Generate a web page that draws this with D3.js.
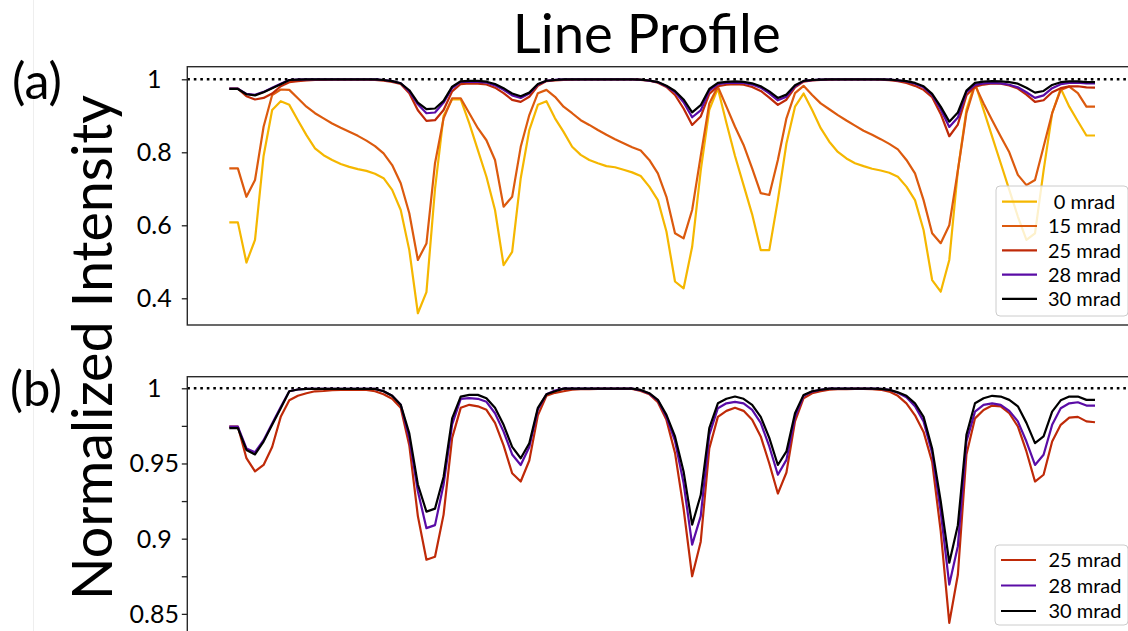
<!DOCTYPE html>
<html><head><meta charset="utf-8">
<script src="https://cdn.jsdelivr.net/npm/d3@7/dist/d3.min.js"></script>
<style>
html,body{margin:0;padding:0;background:#fff;}
svg{display:block;font-family:Lato,"Open Sans",sans-serif;}
</style>
</head><body>
<svg id="chart" width="1128" height="631"></svg>
<script>
// ---------------- data ----------------
const mrad0 = [0.608,0.608,0.498,0.560,0.790,0.916,0.940,0.930,0.888,0.847,
0.811,0.792,0.779,0.768,0.760,0.754,0.749,0.741,0.729,0.697,
0.642,0.532,0.359,0.417,0.700,0.900,0.945,0.945,0.879,0.806,
0.733,0.642,0.491,0.527,0.729,0.861,0.930,0.940,0.893,0.856,
0.815,0.793,0.779,0.770,0.762,0.759,0.752,0.745,0.735,0.706,
0.669,0.583,0.446,0.427,0.541,0.750,0.916,0.975,0.880,0.790,
0.710,0.630,0.532,0.532,0.669,0.824,0.925,0.961,0.916,0.866,
0.829,0.801,0.783,0.770,0.762,0.755,0.750,0.744,0.733,0.706,
0.669,0.587,0.450,0.418,0.505,0.750,0.916,0.990,0.916,0.843,
0.770,0.697,0.624,0.560,0.578,0.750,0.907,0.975,0.925,0.885,
0.846,0.846];
const mrad15 = [0.756,0.756,0.678,0.724,0.870,0.957,0.972,0.971,0.948,0.925,
0.907,0.893,0.879,0.867,0.856,0.845,0.832,0.817,0.797,0.765,
0.715,0.633,0.505,0.550,0.770,0.893,0.948,0.948,0.907,0.866,
0.833,0.779,0.651,0.678,0.815,0.902,0.962,0.971,0.952,0.925,
0.907,0.888,0.875,0.861,0.848,0.836,0.825,0.814,0.805,0.779,
0.742,0.678,0.578,0.564,0.642,0.790,0.934,0.980,0.925,0.870,
0.820,0.756,0.688,0.683,0.779,0.893,0.962,0.982,0.957,0.934,
0.918,0.902,0.887,0.873,0.859,0.848,0.836,0.823,0.808,0.779,
0.742,0.669,0.578,0.551,0.600,0.750,0.907,0.984,0.934,0.888,
0.843,0.800,0.738,0.710,0.724,0.815,0.907,0.971,0.980,0.962,
0.925,0.925];
const mrad25 = [0.9746,0.9746,0.9535,0.9447,0.949,0.961,0.981,0.992,0.995,0.9967,
0.998,0.9982,0.9987,0.9989,0.9989,0.9989,0.9989,0.998,0.996,0.993,
0.987,0.962,0.915,0.886,0.888,0.916,0.967,0.987,0.989,0.988,
0.9857,0.977,0.962,0.9435,0.938,0.952,0.982,0.995,0.997,0.998,
0.9991,0.9994,0.9995,0.9996,0.9996,0.9996,0.9996,0.9996,0.9982,0.996,
0.9907,0.979,0.957,0.920,0.875,0.898,0.960,0.981,0.985,0.987,
0.985,0.979,0.968,0.950,0.930,0.944,0.978,0.9934,0.9967,0.998,
0.9991,0.9994,0.9995,0.9996,0.9996,0.9994,0.999,0.9978,0.995,0.990,
0.982,0.971,0.951,0.905,0.844,0.876,0.956,0.980,0.9856,0.9885,
0.988,0.9834,0.9746,0.958,0.938,0.9425,0.9646,0.9757,0.9805,0.981,
0.978,0.9774];
const mrad28 = [0.9745,0.9745,0.960,0.9575,0.9655,0.9765,0.9875,0.998,0.9992,0.9996,
0.9996,0.9996,0.9996,0.9996,0.9996,0.9996,0.9996,0.9996,0.998,0.995,
0.989,0.967,0.9315,0.907,0.909,0.936,0.976,0.993,0.9934,0.993,
0.991,0.9834,0.9712,0.956,0.949,0.961,0.986,0.996,0.9985,0.9998,
0.9998,0.9998,0.9998,0.9998,0.9998,0.9998,0.9998,0.9998,0.9987,0.9965,
0.992,0.981,0.965,0.937,0.896,0.915,0.969,0.9867,0.990,0.991,
0.990,0.9856,0.977,0.9613,0.9425,0.9524,0.981,0.995,0.9978,0.999,
0.9998,0.9998,0.9998,0.9998,0.9998,0.9998,0.9996,0.999,0.997,0.994,
0.988,0.978,0.957,0.918,0.8695,0.895,0.9646,0.9845,0.989,0.990,
0.989,0.985,0.978,0.9646,0.949,0.9558,0.9757,0.9867,0.990,0.9907,
0.9885,0.9885];
const mrad30 = [0.9735,0.9735,0.959,0.956,0.9646,0.9757,0.9867,0.998,0.9992,0.9996,
0.9996,0.9996,0.9996,0.9996,0.9996,0.9996,0.9996,0.9996,0.998,0.995,
0.989,0.970,0.936,0.918,0.920,0.941,0.980,0.9945,0.9956,0.9956,
0.9934,0.987,0.9757,0.961,0.9535,0.9635,0.987,0.996,0.998,0.9998,
0.9998,0.9998,0.9998,0.9998,0.9998,0.9998,0.9998,0.9998,0.9989,0.9967,
0.9923,0.9823,0.968,0.9447,0.9093,0.929,0.9735,0.990,0.993,0.9945,
0.993,0.989,0.981,0.967,0.949,0.958,0.9834,0.9956,0.998,0.999,
0.9998,0.9998,0.9998,0.9998,0.9998,0.9998,0.9996,0.999,0.9973,0.995,
0.990,0.981,0.960,0.925,0.884,0.909,0.969,0.990,0.9934,0.995,
0.9945,0.9923,0.988,0.977,0.9635,0.968,0.9845,0.992,0.9945,0.9945,
0.9923,0.9923];

const seriesNames  = ["0 mrad","15 mrad","25 mrad","28 mrad","30 mrad"];
const seriesValues = [mrad0, mrad15, mrad25, mrad28, mrad30];
const seriesColors = ["#f5b700","#dc5a0e","#bf2a08","#5a0ca6","#000000"];
const panelBSeries = [2,3,4];

const ticksA = [0.4,0.6,0.8,1];
const tickLabelsA = ["0.4","0.6","0.8","1"];
const ticksB = [0.85,0.875,0.9,0.925,0.95,0.975,1];
const tickLabelsB = ["0.85","","0.9","","0.95","","1"];
const referenceLevel = 1;

const titleText = "Line Profile";
const yLabelText = "Normalized Intensity";
const panelLabels = ["(a)","(b)"];

// ---------------- layout ----------------
const svg = d3.select("#chart");
const W = 1128, H = 631;
const left = 187.3, right = 1134;
const x = d3.scaleLinear().domain([-4.9, 105.55]).range([left, right]);

const pa = {top:66.7, bottom:325, y: d3.scaleLinear().domain([0.3268,1.0345]).range([325,66.7])};
const pb = {top:376.7, bottom:645, y: d3.scaleLinear().domain([0.8293,1.0077]).range([645,376.7])};

// faint vertical artefact line
svg.append("line").attr("x1",33.5).attr("x2",33.5).attr("y1",0).attr("y2",H)
  .attr("stroke","#eeeeee").attr("stroke-width",1);

function fitText(sel, target){
  const fs = parseFloat(sel.attr("font-size"));
  const w = sel.node().getComputedTextLength();
  if (w>0) sel.attr("font-size", fs*target/w);
}

function drawPanel(p, idxs, ticks, labels, legendBox){
  const g = svg.append("g");
  const clipId = "clip"+Math.round(p.top);
  svg.append("clipPath").attr("id",clipId).append("rect")
    .attr("x",left).attr("y",p.top).attr("width",right-left).attr("height",p.bottom-p.top);

  g.append("line").attr("x1",left).attr("x2",right)
    .attr("y1",p.y(referenceLevel)).attr("y2",p.y(referenceLevel))
    .attr("stroke","#000").attr("stroke-width",2.6).attr("stroke-dasharray","2.6,3.9");

  const line = d3.line().x((d,i)=>x(i)).y(d=>p.y(d));
  const lg = g.append("g").attr("clip-path",`url(#${clipId})`);
  idxs.forEach(k=>{
    lg.append("path").datum(seriesValues[k]).attr("d",line)
      .attr("fill","none").attr("stroke",seriesColors[k]).attr("stroke-width",2.2)
      .attr("stroke-linejoin","round").attr("stroke-linecap","butt");
  });

  g.append("rect").attr("x",left).attr("y",p.top).attr("width",right-left).attr("height",p.bottom-p.top)
    .attr("fill","none").attr("stroke","#2a2a2a").attr("stroke-width",1.4);

  const ax = d3.axisLeft(p.y).tickValues(ticks).tickSize(5.5).tickSizeOuter(0)
    .tickFormat((d,i)=>labels[i]);
  const axg = g.append("g").attr("transform",`translate(${left},0)`).call(ax);
  axg.select(".domain").remove();
  axg.selectAll(".tick line").attr("stroke","#222").attr("stroke-width",1.3);
  axg.selectAll(".tick text").attr("fill","#000").attr("font-size",25)
    .attr("font-family","Lato, 'Open Sans', sans-serif")
    .attr("text-anchor","middle").attr("x",-33).attr("dy","0.34em");

  const lb = legendBox;
  const leg = g.append("g");
  leg.append("rect").attr("x",lb.x).attr("y",lb.y).attr("width",lb.w).attr("height",lb.h)
    .attr("rx",4).attr("fill","#fff").attr("fill-opacity",0.8).attr("stroke","#cccccc").attr("stroke-width",1);
  idxs.forEach((k,j)=>{
    const cy = lb.y0 + j*lb.dy;
    leg.append("line").attr("x1",lb.x+6).attr("x2",lb.x+41).attr("y1",cy).attr("y2",cy)
      .attr("stroke",seriesColors[k]).attr("stroke-width",2.2);
    leg.append("text").attr("x",lb.tx).attr("y",cy).attr("dy","0.36em")
      .attr("text-anchor","middle").attr("font-size",20).attr("fill","#000")
      .text(seriesNames[k]);
  });
}

drawPanel(pa,[0,1,2,3,4],ticksA,tickLabelsA,{x:996,y:186,w:132,h:130,y0:201.7,dy:24.3,tx:1084.5});
drawPanel(pb,panelBSeries,ticksB,tickLabelsB,{x:995,y:545,w:133,h:80,y0:560,dy:25.5,tx:1085});

// title
const t = svg.append("text").attr("x",646.7).attr("y",53).attr("text-anchor","middle")
  .attr("font-size",52).attr("fill","#000").text(titleText);
fitText(t,268);

// y label
const yl = svg.append("text").attr("transform","translate(112,347.5) rotate(-90)")
  .attr("text-anchor","middle").attr("font-size",56).attr("fill","#000").text(yLabelText);
fitText(yl,505);

// panel labels
const la = svg.append("text").attr("x",12).attr("y",99).attr("font-size",42).attr("fill","#000").text(panelLabels[0]);
fitText(la,50);
const lbb = svg.append("text").attr("x",10).attr("y",406).attr("font-size",42).attr("fill","#000").text(panelLabels[1]);
fitText(lbb,52);
</script>
</body></html>
